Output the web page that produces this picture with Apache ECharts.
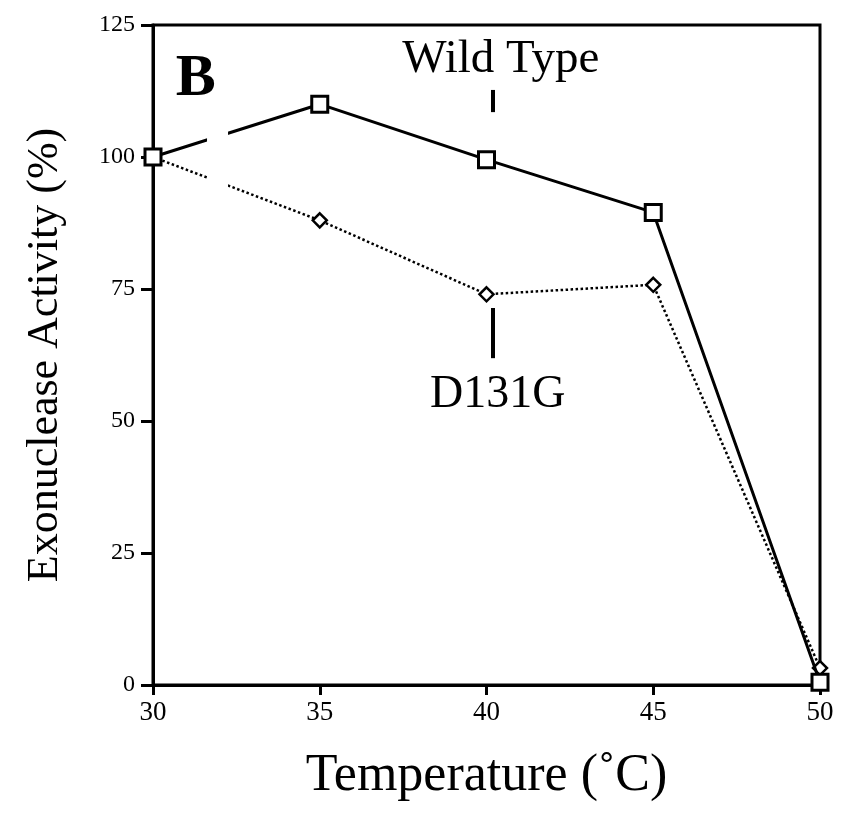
<!DOCTYPE html>
<html><head><meta charset="utf-8">
<script src="https://cdn.jsdelivr.net/npm/echarts@6/dist/echarts.min.js"></script>
<style>html,body{margin:0;padding:0;background:#fff}#c{width:841px;height:814px}</style>
</head><body><div id="c"></div>
<script>
var temperatures = [30, 35, 40, 45, 50];
var wildType = [100, 110, 99.5, 89.5, 0.5];
var d131g = [100, 88, 74, 75.8, 3.2];
var yTicks = [0, 25, 50, 75, 100, 125];
var FONT = '"Liberation Serif", "DejaVu Serif", serif';

var chart = echarts.init(document.getElementById('c'));
function pairs(xs, ys){ return xs.map(function(x,i){ return [x, ys[i]]; }); }

chart.setOption({
  animation: false,
  backgroundColor: '#fff',
  grid: { left: 153, right: 21, top: 25, bottom: 129, outerBoundsMode: 'none', containLabel: false,
          show: true, borderColor: '#000', borderWidth: 3, backgroundColor: 'transparent' },
  xAxis: {
    type: 'value', min: 30, max: 50, interval: 5,
    name: 'Temperature (˚C)', nameLocation: 'middle', nameGap: 65,
    nameTextStyle: { fontFamily: FONT, fontSize: 52, color: '#000' },
    axisLine: { lineStyle: { color: '#000', width: 3 } },
    axisTick: { show: true, length: 10, lineStyle: { color: '#000', width: 3 } },
    axisLabel: { fontFamily: FONT, fontSize: 27, color: '#000', margin: 14 },
    splitLine: { show: false }
  },
  yAxis: {
    type: 'value', min: 0, max: 125, interval: 25,
    name: 'Exonuclease Activity (%)', nameLocation: 'middle', nameGap: 86,
    nameTextStyle: { fontFamily: FONT, fontSize: 44, color: '#000' },
    axisLine: { lineStyle: { color: '#000', width: 3 } },
    axisTick: { show: true, length: 12, lineStyle: { color: '#000', width: 3 } },
    axisLabel: { fontFamily: FONT, fontSize: 24, color: '#000', margin: 18,
      formatter: function(v){ return yTicks.indexOf(v) >= 0 ? String(v) : ''; } },
    splitLine: { show: false }
  },
  series: [
    {
      name: 'Wild Type', type: 'line', data: pairs(temperatures, wildType),
      symbol: 'rect', symbolSize: 16, showAllSymbol: true, z: 4,
      lineStyle: { color: '#000', width: 3 },
      itemStyle: { color: '#fff', borderColor: '#000', borderWidth: 3 },
      markLine: {
        silent: true, symbol: 'none', label: { show: false },
        lineStyle: { color: '#000', width: 4, type: 'solid' },
        data: [
          [{ coord: [40.2, 108.5] }, { coord: [40.2, 112.7] }],
          [{ coord: [40.2, 61.9] }, { coord: [40.2, 71.4] }]
        ]
      }
    },
    {
      name: 'D131G', type: 'line', data: pairs(temperatures, d131g),
      symbol: 'diamond', symbolSize: 14, showAllSymbol: true, z: 3,
      lineStyle: { color: '#000', width: 2.5, type: 'dotted' },
      itemStyle: { color: '#fff', borderColor: '#000', borderWidth: 2.5 }
    }
  ]
});

// annotations anchored to data coordinates
var wtLab = chart.convertToPixel({ gridIndex: 0 }, [40.43, 118.4]);
var mutLab = chart.convertToPixel({ gridIndex: 0 }, [40.34, 54.9]);
var bLab = chart.convertToPixel({ gridIndex: 0 }, [30.68, 114.7]);
var gapA = chart.convertToPixel({ gridIndex: 0 }, [31.62, 118]);
var gapB = chart.convertToPixel({ gridIndex: 0 }, [32.25, 91]);

chart.setOption({
  graphic: [
    { type: 'rect', z: 100, shape: { x: gapA[0], y: gapA[1], width: gapB[0] - gapA[0], height: gapB[1] - gapA[1] }, style: { fill: '#fff' } },
    { type: 'text', z: 101, x: wtLab[0], y: wtLab[1], style: { text: 'Wild Type', font: '47px ' + FONT, fill: '#000', align: 'center', verticalAlign: 'middle' } },
    { type: 'text', z: 101, x: mutLab[0], y: mutLab[1], style: { text: 'D131G', font: '46px ' + FONT, fill: '#000', align: 'center', verticalAlign: 'middle' } },
    { type: 'text', z: 101, x: bLab[0], y: bLab[1], style: { text: 'B', font: 'bold 60px ' + FONT, fill: '#000', align: 'left', verticalAlign: 'middle' } }
  ]
});
</script></body></html>
